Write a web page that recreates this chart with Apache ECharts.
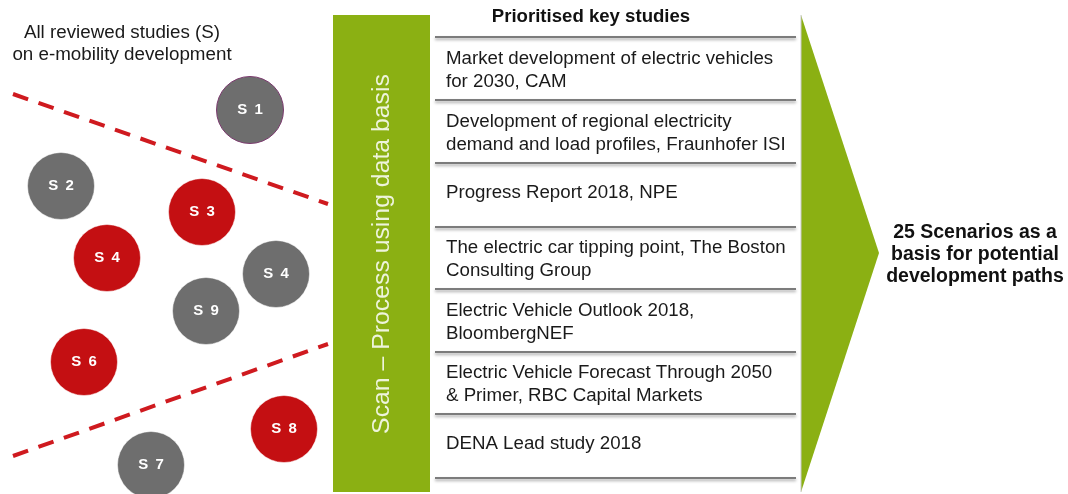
<!DOCTYPE html>
<html>
<head>
<meta charset="utf-8">
<script src="https://cdn.jsdelivr.net/npm/echarts@6/dist/echarts.min.js"></script>
<style>
  html, body { margin: 0; padding: 0; background: #fff; }
  #main { width: 1068px; height: 494px; }
</style>
</head>
<body>
<div id="main"></div>
<script>
// reviewed studies (circles)
var studyLabels = ['S 1', 'S 2', 'S 3', 'S 4', 'S 4', 'S 9', 'S 6', 'S 8', 'S 7'];
var studyX = [250, 61, 202, 107, 276, 206, 84, 284, 151];
var studyY = [110, 186, 212, 258, 274, 311, 362, 429, 465];
var studyPrioritised = [false, false, true, true, false, false, true, true, false];

// funnel dashes (start / end)
var upperFunnel = [[13, 94], [328, 204]];
var lowerFunnel = [[13, 456], [328, 344]];

// key study table
var tableTitle = 'Prioritised key studies';
var keyStudies = [
  'Market development of electric vehicles\nfor 2030, CAM',
  'Development of regional electricity\ndemand and load profiles, Fraunhofer ISI',
  'Progress Report 2018, NPE',
  'The electric car tipping point, The Boston\nConsulting Group',
  'Electric Vehicle Outlook 2018,\nBloombergNEF',
  'Electric Vehicle Forecast Through 2050\n& Primer, RBC Capital Markets',
  'DENA Lead study 2018'
];
var rowLines = [37, 100, 163, 227, 289, 352, 414, 478];

var headText = 'All reviewed studies (S)\non e-mobility development';
var processText = 'Scan \u2013 Process using data basis';
var resultText = '25 Scenarios as a\nbasis for potential\ndevelopment paths';

var GREEN = '#8bb013';
var RED = '#c40f12';
var GREY = '#6e6e6e';
var FONT = '"Liberation Sans", Arial, sans-serif';

var myChart = echarts.init(document.getElementById('main'));

var circleData = studyLabels.map(function (name, i) {
  return {
    name: name,
    value: [studyX[i], studyY[i]],
    itemStyle: {
      color: studyPrioritised[i] ? RED : GREY,
      opacity: 1,
      borderColor: i === 0 ? '#7b3a6e' : 'rgba(255,255,255,0.5)',
      borderWidth: 1
    }
  };
});

function dashLine(pts) {
  return {
    type: 'line',
    data: pts,
    symbol: 'none',
    silent: true,
    z: 1,
    lineStyle: { color: '#cf1a1f', width: 4, type: [16, 11] }
  };
}

var option = {
  animation: false,
  grid: { left: 0, right: 0, top: 0, bottom: 0 },
  xAxis: { type: 'value', min: 0, max: 1068, show: false },
  yAxis: { type: 'value', min: 0, max: 494, inverse: true, show: false },
  series: [
    dashLine(upperFunnel),
    dashLine(lowerFunnel),
    {
      type: 'scatter',
      z: 3,
      symbolSize: 67,
      data: circleData,
      emphasis: { disabled: true },
      label: {
        show: true,
        formatter: function (p) { return p.name.replace(' ', '\u2009 '); },
        color: '#fff',
        fontWeight: 'bold',
        fontSize: 15,
        fontFamily: FONT
      }
    },
    // process bar, arrow and table
    {
      type: 'custom',
      z: 2,
      data: [0],
      renderItem: function (params, api) {
        var children = [];
        var tl = api.coord([333, 15]);
        var br = api.coord([430, 492]);
        children.push({
          type: 'rect',
          shape: { x: tl[0], y: tl[1], width: br[0] - tl[0], height: br[1] - tl[1] },
          style: { fill: GREEN }
        });
        var mid = api.coord([382, 254]);
        children.push({
          type: 'text',
          x: mid[0], y: mid[1],
          rotation: Math.PI / 2,
          style: {
            text: processText, x: 0, y: 0,
            align: 'center', verticalAlign: 'middle',
            fill: '#eef4dc', fontSize: 24.8, fontFamily: FONT
          }
        });
        // arrow
        var a0 = api.coord([801, 15]), a1 = api.coord([879, 253]), a2 = api.coord([801, 492]);
        children.push({
          type: 'polygon',
          shape: { points: [a0, a1, a2] },
          style: { fill: GREEN }
        });
        children.push({
          type: 'line',
          shape: { x1: a0[0], y1: a0[1], x2: a2[0], y2: a2[1] },
          style: { stroke: '#c9c9c9', lineWidth: 1 }
        });
        // table title
        var tt = api.coord([591, 17]);
        children.push({
          type: 'text',
          style: {
            text: tableTitle, x: tt[0], y: tt[1],
            align: 'center', verticalAlign: 'middle',
            fill: '#111', fontSize: 18.6, fontWeight: 'bold', fontFamily: FONT
          }
        });
        // row separators
        rowLines.forEach(function (y) {
          var p0 = api.coord([435, y]), p1 = api.coord([796, y]);
          children.push({
            type: 'line',
            shape: { x1: p0[0], y1: p0[1], x2: p1[0], y2: p1[1] },
            style: {
              stroke: '#7c7c7c', lineWidth: 2,
              shadowColor: 'rgba(0,0,0,0.35)', shadowBlur: 3, shadowOffsetY: 2
            }
          });
        });
        // row texts
        keyStudies.forEach(function (txt, i) {
          var twoLines = txt.indexOf('\n') >= 0;
          var p = api.coord([446, (rowLines[i] + rowLines[i + 1]) / 2 + (twoLines ? 1.5 : -2)]);
          children.push({
            type: 'text',
            style: {
              text: txt, x: p[0], y: p[1],
              align: 'left', verticalAlign: 'middle',
              fill: '#1a1a1a', fontSize: 18.7, lineHeight: 23, fontFamily: FONT
            }
          });
        });
        // left heading
        var h = api.coord([122, 44]);
        children.push({
          type: 'text',
          style: {
            text: headText, x: h[0], y: h[1],
            align: 'center', verticalAlign: 'middle',
            fill: '#1a1a1a', fontSize: 18.8, lineHeight: 22, fontFamily: FONT
          }
        });
        // result text
        var r = api.coord([975, 255]);
        children.push({
          type: 'text',
          style: {
            text: resultText, x: r[0], y: r[1],
            align: 'center', verticalAlign: 'middle',
            fill: '#111', fontSize: 19.5, fontWeight: 'bold', lineHeight: 22, fontFamily: FONT
          }
        });
        return { type: 'group', children: children };
      }
    }
  ]
};

myChart.setOption(option);
</script>
</body>
</html>
